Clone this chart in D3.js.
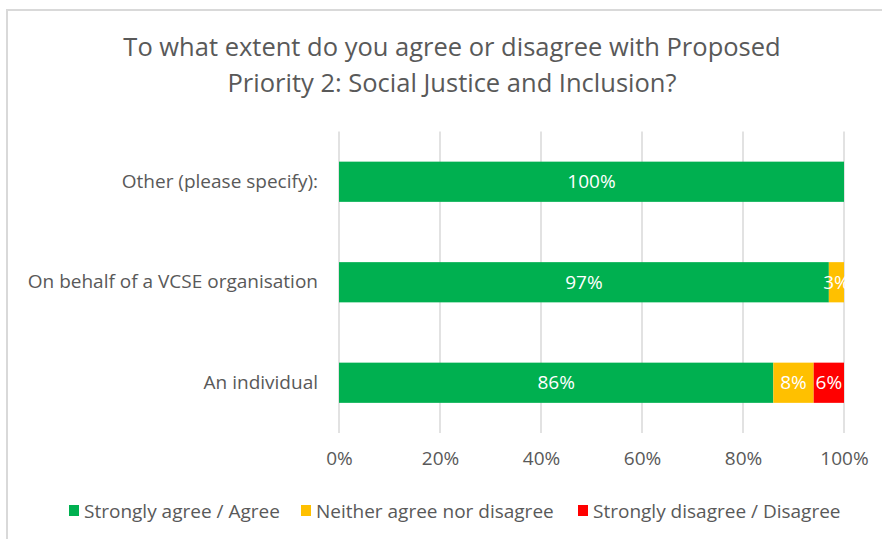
<!DOCTYPE html>
<html><head><meta charset="utf-8">
<script src="https://cdn.jsdelivr.net/npm/d3@7"></script>
<style>body{margin:0;background:#fff}svg{display:block}text{font-family:"Open Sans",sans-serif}</style>
</head><body>
<script>
const categories = ["Other (please specify):", "On behalf of a VCSE organisation", "An individual"];
const seriesNames = ["Strongly agree / Agree", "Neither agree nor disagree", "Strongly disagree / Disagree"];
const agree = [100, 97, 86];
const neither = [0, 3, 8];
const disagree = [0, 0, 6];
const tickValues = [0, 20, 40, 60, 80, 100];
const colors = ["#00B050", "#FFC000", "#FF0000"];
const titleLines = ["To what extent do you agree or disagree with Proposed", "Priority 2: Social Justice and Inclusion?"];

const W = 882, H = 539;
const svg = d3.select("body").append("svg").attr("width", W).attr("height", H);
svg.append("path").attr("d", `M7,${H} V10 H${W}`).attr("fill", "none").attr("stroke", "#d9d9d9").attr("stroke-width", 2);

const x = d3.scaleLinear().domain([0, 100]).range([339, 844]);
const y = d3.scaleBand().domain(categories).range([131.5, 433]).paddingInner(0.6).paddingOuter(0.3);

svg.selectAll("text.title").data(titleLines).join("text")
  .attr("x", 452).attr("y", (d, i) => 56 + i * 36).attr("text-anchor", "middle")
  .attr("fill", "#595959").style("font-size", "25.5px").text(d => d);

svg.append("g").selectAll("line").data(tickValues).join("line")
  .attr("x1", d => x(d)).attr("x2", d => x(d)).attr("y1", 131.5).attr("y2", 433)
  .attr("stroke", "#d9d9d9").attr("stroke-width", 1.5);

const xAxis = d3.axisBottom(x).tickValues(tickValues).tickFormat(d => d + "%").tickSize(0).tickPadding(0);
const gx = svg.append("g").attr("transform", "translate(0,451)").call(xAxis);
gx.select(".domain").remove();
gx.selectAll("text").attr("fill", "#595959").style("font-size", "19px").attr("dy", "0.71em");

const yAxis = d3.axisLeft(y).tickSize(0).tickPadding(0);
const gy = svg.append("g").attr("transform", "translate(318,0)").call(yAxis);
gy.select(".domain").remove();
gy.selectAll("text").attr("fill", "#595959").style("font-size", "19px");

const rows = categories.map((c, i) => ({cat: c, vals: [agree[i], neither[i], disagree[i]]}));
const stackData = rows.map(r => { const o = {cat: r.cat}; r.vals.forEach((v, j) => o["s" + j] = v); return o; });
const stack = d3.stack().keys(["s0", "s1", "s2"])(stackData);

stack.forEach((layer, j) => {
  const g = svg.append("g");
  layer.forEach(d => {
    const v = d[1] - d[0];
    if (v <= 0) return;
    g.append("rect").attr("x", x(d[0])).attr("y", y(d.data.cat)).attr("width", x(d[1]) - x(d[0]))
      .attr("height", y.bandwidth()).attr("fill", colors[j]);
    g.append("text").attr("x", (x(d[0]) + x(d[1])) / 2).attr("y", y(d.data.cat) + y.bandwidth() / 2)
      .attr("dy", "0.35em").attr("text-anchor", "middle").attr("fill", "#fff").style("font-size", "19px")
      .text(v + "%");
  });
});

const legendX = [69, 301, 578];
const lg = svg.append("g");
seriesNames.forEach((n, i) => {
  lg.append("rect").attr("x", legendX[i]).attr("y", 505).attr("width", 10).attr("height", 11).attr("fill", colors[i]);
  lg.append("text").attr("x", legendX[i] + 15).attr("y", 511).attr("dy", "0.35em").attr("fill", "#595959")
    .style("font-size", "19px").text(n);
});
</script>
</body></html>
